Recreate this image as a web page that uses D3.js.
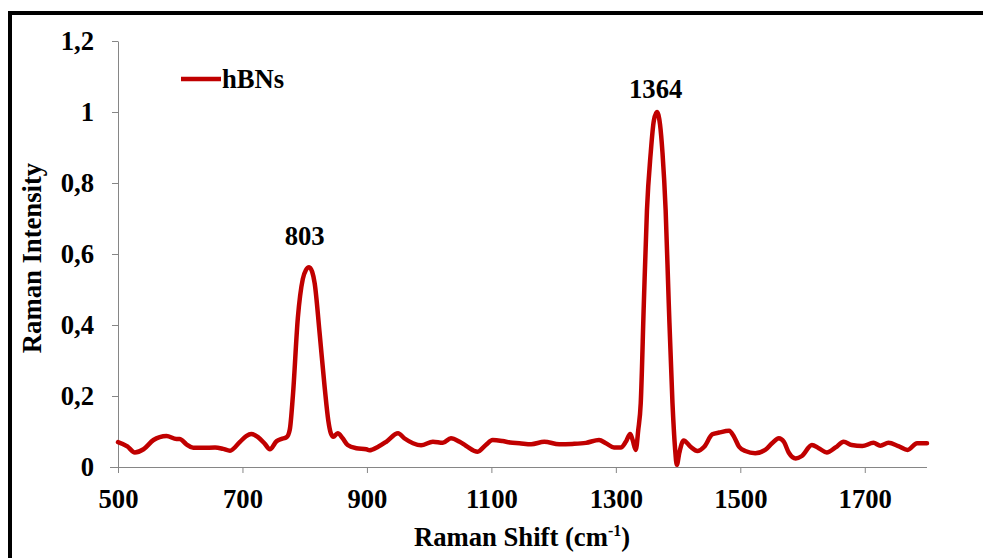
<!DOCTYPE html>
<html><head><meta charset="utf-8">
<script src="https://cdn.jsdelivr.net/npm/d3@7"></script>
<style>body{margin:0;background:#fff}svg{display:block}</style>
</head><body><svg id="c" width="983" height="558"></svg>
<script>
const seriesName = "hBNs";
const shift = [500,515,527,541,557,567,578,594,599,610,621,637,656,669,680,696,706,714,725,736,744,755,763,771,776,781,789,797,802,807,812,816,824,832,838,842,846,853,861,869,883,899,904,918,931,950,960,974,987,1006,1022,1035,1049,1059,1078,1091,1102,1118,1130,1145,1164,1185,1209,1230,1252,1273,1284,1297,1308,1316,1323,1327,1332,1336,1340,1345,1350,1356,1361,1366,1371,1375,1380,1385,1391,1395,1398,1402,1409,1420,1431,1442,1455,1466,1482,1490,1498,1508,1524,1540,1551,1562,1570,1578,1589,1599,1615,1626,1639,1653,1666,1679,1696,1714,1725,1738,1754,1769,1784,1800];
const intensity = [0.070,0.058,0.041,0.050,0.076,0.084,0.087,0.079,0.079,0.064,0.054,0.054,0.055,0.051,0.046,0.071,0.087,0.093,0.084,0.065,0.050,0.073,0.079,0.084,0.105,0.200,0.420,0.530,0.555,0.563,0.550,0.518,0.377,0.226,0.130,0.095,0.085,0.095,0.081,0.062,0.053,0.050,0.047,0.057,0.071,0.095,0.081,0.067,0.061,0.071,0.068,0.081,0.071,0.060,0.043,0.062,0.076,0.073,0.069,0.067,0.064,0.071,0.064,0.065,0.068,0.076,0.067,0.055,0.055,0.071,0.093,0.076,0.048,0.104,0.180,0.462,0.724,0.884,0.975,1.000,0.965,0.884,0.724,0.462,0.180,0.056,0.006,0.040,0.075,0.057,0.045,0.057,0.092,0.097,0.102,0.085,0.057,0.045,0.039,0.048,0.067,0.081,0.071,0.040,0.024,0.031,0.062,0.053,0.041,0.055,0.071,0.062,0.059,0.068,0.060,0.068,0.059,0.048,0.067,0.067];
const xTicks = [500,700,900,1100,1300,1500,1700];
const yTicks = [0,0.2,0.4,0.6,0.8,1,1.2];
const peakLabels = ["803","1364"];
const peakX = [800,1364];
const peakY = [0.625,1.039];

const svg = d3.select("#c");
const font = "'Liberation Serif','Times New Roman',serif";
const fs = 26.67;
const x = d3.scaleLinear().domain([500,1800]).range([118,927]);
const y = d3.scaleLinear().domain([0,1.2]).range([467,41]);
const axisColor = "#868686";

// outer frame
svg.append("path").attr("d","M10,560 L10,13 L990,13").attr("fill","none").attr("stroke","#000").attr("stroke-width",4);

const fmt = d => String(d).replace(".", ",");

// y axis
const gy = svg.append("g").attr("transform","translate(118,0)")
  .call(d3.axisLeft(y).tickValues(yTicks).tickSize(6).tickSizeOuter(0).tickFormat(fmt));
gy.select(".domain").attr("stroke",axisColor);
gy.selectAll(".tick line").attr("stroke",axisColor);
gy.selectAll(".tick text").attr("font-family",font).attr("font-weight","bold").attr("font-size",fs).attr("fill","#000").attr("x",-24);

// x axis
const gx = svg.append("g").attr("transform","translate(0,467)")
  .call(d3.axisBottom(x).tickValues(xTicks).tickSize(6).tickSizeOuter(0).tickFormat(d3.format("d")));
gx.select(".domain").attr("stroke",axisColor).attr("d","M110,0.5H927");
gx.selectAll(".tick line").attr("stroke",axisColor);
gx.selectAll(".tick text").attr("font-family",font).attr("font-weight","bold").attr("font-size",fs).attr("fill","#000").attr("y",22);

// line
const pts = shift.map((s,i)=>[s,intensity[i]]);
svg.append("path").datum(pts)
  .attr("fill","none").attr("stroke","#C00000").attr("stroke-width",4.5)
  .attr("stroke-linejoin","round").attr("stroke-linecap","round")
  .attr("d", d3.line().x(d=>x(d[0])).y(d=>y(d[1])).curve(d3.curveMonotoneX));

// peak labels
svg.selectAll(".pk").data(peakLabels).enter().append("text")
  .attr("x",(d,i)=>x(peakX[i])).attr("y",(d,i)=>y(peakY[i]))
  .attr("text-anchor","middle").attr("font-family",font).attr("font-weight","bold").attr("font-size",fs)
  .text(d=>d);

// legend
svg.append("line").attr("x1",181).attr("x2",221).attr("y1",79).attr("y2",79).attr("stroke","#C00000").attr("stroke-width",4.5);
svg.append("text").attr("x",222).attr("y",88).attr("font-family",font).attr("font-weight","bold").attr("font-size",fs).text(seriesName);

// axis titles
const xt = svg.append("text").attr("x",522).attr("y",546).attr("text-anchor","middle")
  .attr("font-family",font).attr("font-weight","bold").attr("font-size",fs);
xt.append("tspan").text("Raman Shift (cm");
xt.append("tspan").attr("font-size",16).attr("dy",-10).text("-1");
xt.append("tspan").attr("dy",10).text(")");

svg.append("text").attr("transform","translate(41,258) rotate(-90)").attr("text-anchor","middle")
  .attr("font-family",font).attr("font-weight","bold").attr("font-size",fs).text("Raman Intensity");
</script></body></html>
